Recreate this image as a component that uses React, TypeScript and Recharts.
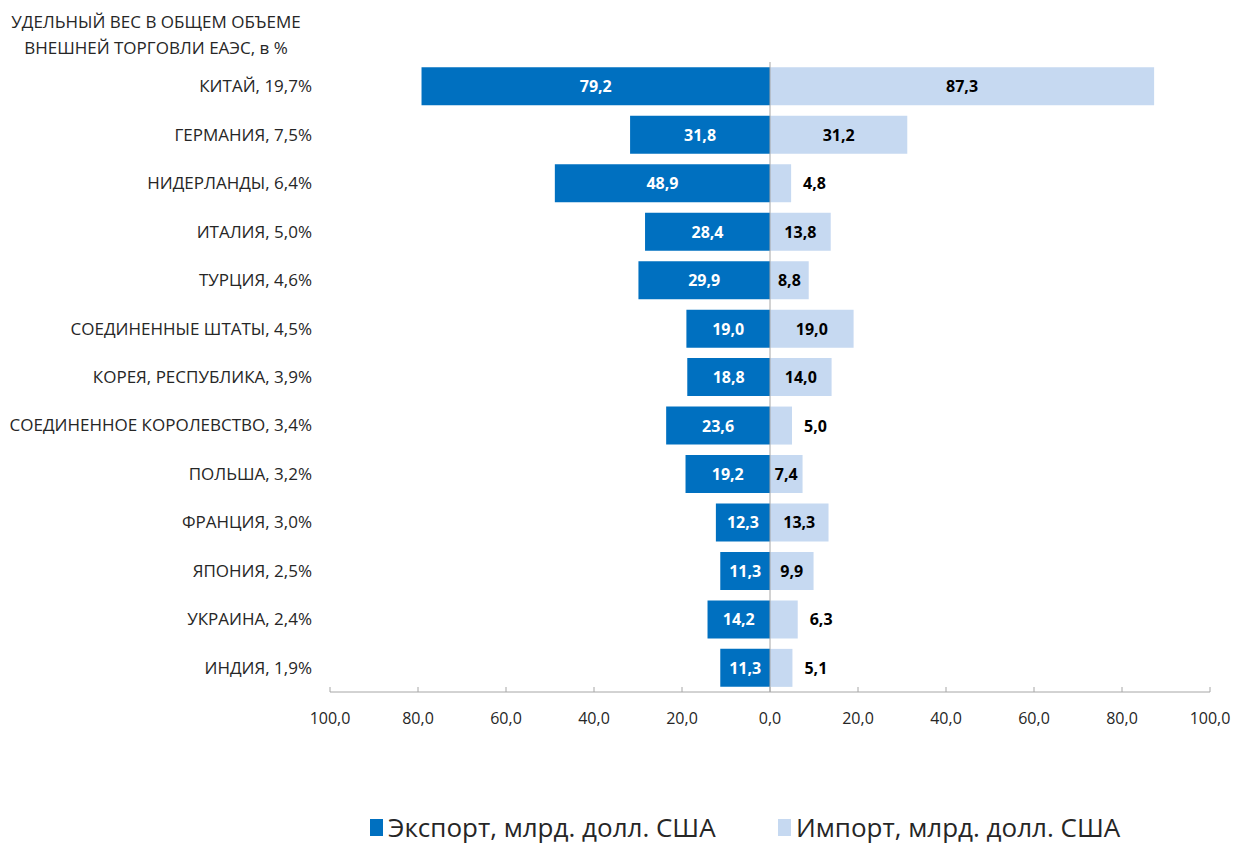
import React from "react";
import { BarChart, Bar, XAxis, YAxis, ReferenceLine, LabelList, Legend } from "recharts";

// доли стран в общем объеме внешней торговли ЕАЭС
const countries = [
  "КИТАЙ, 19,7%",
  "ГЕРМАНИЯ, 7,5%",
  "НИДЕРЛАНДЫ, 6,4%",
  "ИТАЛИЯ, 5,0%",
  "ТУРЦИЯ, 4,6%",
  "СОЕДИНЕННЫЕ ШТАТЫ, 4,5%",
  "КОРЕЯ, РЕСПУБЛИКА, 3,9%",
  "СОЕДИНЕННОЕ КОРОЛЕВСТВО, 3,4%",
  "ПОЛЬША, 3,2%",
  "ФРАНЦИЯ, 3,0%",
  "ЯПОНИЯ, 2,5%",
  "УКРАИНА, 2,4%",
  "ИНДИЯ, 1,9%",
];
const exportValues = [79.2, 31.8, 48.9, 28.4, 29.9, 19.0, 18.8, 23.6, 19.2, 12.3, 11.3, 14.2, 11.3];
const importValues = [87.3, 31.2, 4.8, 13.8, 8.8, 19.0, 14.0, 5.0, 7.4, 13.3, 9.9, 6.3, 5.1];
const xTicks = [-100, -80, -60, -40, -20, 0, 20, 40, 60, 80, 100];
const seriesNames = ["Экспорт, млрд. долл. США", "Импорт, млрд. долл. США"];
const headerLines = ["УДЕЛЬНЫЙ ВЕС В ОБЩЕМ ОБЪЕМЕ", "ВНЕШНЕЙ ТОРГОВЛИ ЕАЭС, в %"];

const EXPORT_COLOR = "#0070C0";
const IMPORT_COLOR = "#C6D9F1";
const AXIS_COLOR = "#a6a6a6";
const TEXT_COLOR = "#262626";
const FONT = '"Open Sans", sans-serif';

const data = countries.map((name, i) => ({
  name,
  export: -exportValues[i],
  import: importValues[i],
}));

const fmt = (v: number) => Math.abs(v).toFixed(1).replace(".", ",");

const ExportLabel = (props: any) => {
  const { x, y, width, height, value } = props;
  return (
    <text
      x={x + width / 2}
      y={y + height / 2}
      fill="#fff"
      fontSize={16}
      fontWeight={700}
      fontFamily={FONT}
      textAnchor="middle"
      dominantBaseline="central"
    >
      {fmt(value)}
    </text>
  );
};

const ImportLabel = (props: any) => {
  const { x, y, width, height, value } = props;
  // small bars get the label just outside
  const inside = width >= 30;
  return (
    <text
      x={inside ? x + width / 2 : x + width + 12}
      y={y + height / 2}
      fill="#000"
      fontSize={16}
      fontWeight={700}
      fontFamily={FONT}
      textAnchor={inside ? "middle" : "start"}
      dominantBaseline="central"
    >
      {fmt(value)}
    </text>
  );
};

const LegendBox = () => (
  <div
    style={{
      height: 40,
      display: "flex",
      alignItems: "flex-end",
      paddingLeft: 370,
      fontFamily: FONT,
      fontSize: 26,
      lineHeight: "32px",
      color: TEXT_COLOR,
      boxSizing: "border-box",
    }}
  >
    {seriesNames.map((n, i) => (
      <div
        key={n}
        style={{ display: "flex", alignItems: "center", height: 32, width: i === 0 ? 408 : "auto", whiteSpace: "nowrap" }}
      >
        <div
          style={{
            width: 13,
            height: 17,
            marginRight: 5,
            background: i === 0 ? EXPORT_COLOR : IMPORT_COLOR,
          }}
        />
        <span>{n}</span>
      </div>
    ))}
  </div>
);

export default function App() {
  return (
    <div style={{ position: "absolute", left: 0, top: 0, width: 1234, height: 843, background: "#fff" }}>
      <div
        style={{
          position: "absolute",
          left: 0,
          top: 9,
          width: 312,
          textAlign: "center",
          fontFamily: FONT,
          fontSize: 17,
          lineHeight: "26px",
          color: TEXT_COLOR,
        }}
      >
        {headerLines.map((l) => (
          <div key={l}>{l}</div>
        ))}
      </div>
      <BarChart
        width={1234}
        height={843}
        data={data}
        layout="vertical"
        stackOffset="sign"
        barCategoryGap="11%"
        margin={{ top: 62, right: 24, bottom: 0, left: 0 }}
      >
        <XAxis
          type="number"
          domain={[-100, 100]}
          ticks={xTicks}
          tickFormatter={fmt}
          height={111}
          stroke={AXIS_COLOR}
          tickSize={-5}
          tickMargin={26}
          tick={{ fill: TEXT_COLOR, fontSize: 16, fontFamily: FONT }}
        />
        <YAxis
          type="category"
          dataKey="name"
          width={330}
          axisLine={false}
          tickLine={false}
          tickSize={0}
          tickMargin={18}
          tick={{ fill: TEXT_COLOR, fontSize: 17, fontFamily: FONT }}
        />
        <Bar dataKey="export" stackId="a" fill={EXPORT_COLOR} isAnimationActive={false}>
          <LabelList dataKey="export" content={ExportLabel} />
        </Bar>
        <Bar dataKey="import" stackId="a" fill={IMPORT_COLOR} isAnimationActive={false}>
          <LabelList dataKey="import" content={ImportLabel} />
        </Bar>
        <ReferenceLine x={0} stroke={AXIS_COLOR} />
        <Legend verticalAlign="bottom" content={LegendBox} />
      </BarChart>
    </div>
  );
}
